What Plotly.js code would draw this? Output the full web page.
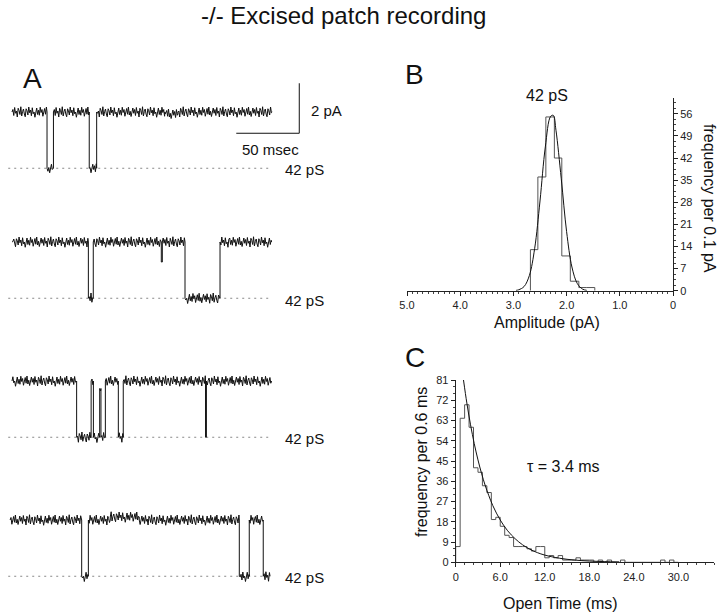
<!DOCTYPE html>
<html>
<head>
<meta charset="utf-8">
<script src="https://cdn.plot.ly/plotly-3.0.1.min.js"></script>
<style>
  html, body { margin: 0; padding: 0; background: #fff; }
  #plot { width: 720px; height: 615px; }
</style>
</head>
<body>
<div id="plot"></div>
<script>
// ---- data ----
// panel A: single-channel traces, change points (ms) and current level (pA) held until the next point
var OPEN = -2.25;   // 42 pS open level
var tr1Times  = [0, 27.8, 32.9, 61.3, 67.2, 121.4, 131.7, 206.5];
var tr1Levels = [0, OPEN, 0, OPEN, 0, -0.08, 0];
var tr2Times  = [0, 60.6, 64.5, 118.5, 119.3, 137.3, 165.1, 206];
var tr2Levels = [0, OPEN, 0, -0.8, 0, OPEN, 0];
var tr3Times  = [0, 51.3, 62.8, 64.6, 69.6, 70.6, 74.1, 84.4, 88.3, 153.6, 154.3, 206];
var tr3Levels = [0, OPEN, 0, OPEN, -0.3, OPEN, 0, OPEN, 0, OPEN, 0];
var tr4Times  = [-1.5, 55.3, 60.6, 78, 101, 180.4, 188.3, 199.4, 204.8];
var tr4Levels = [0, OPEN, 0, 0.12, 0, OPEN, 0, OPEN];
// recording noise (pA), estimated from the traces
var noise = [0.1, -0.14, 0.18, -0.05, 0.04, -0.2, 0.15, 0.06, -0.1, 0.21, -0.16, 0.02, 0.12, -0.08, -0.19,
             0.13, 0.05, -0.12, 0.2, -0.03, 0.08, -0.15, 0.17, -0.07, 0.0, -0.21, 0.11, 0.16, -0.1, 0.07,
             -0.13, 0.19, -0.02, 0.1, -0.17, 0.05, 0.14, -0.09, 0.2, -0.12, 0.03, -0.18, 0.09, 0.16, -0.05];
var dashT = [-3, 205];
var SCALE_MS = 50, SCALE_PA = 2, scaleT0 = 178, scaleY0 = -0.85;

// panel B: amplitude histogram (pA bin edges, counts) and gaussian fit
var ampEdges  = [2.68, 2.54, 2.39, 2.23, 2.09, 1.93, 1.77, 1.62, 1.47];
var ampCounts = [13, 36, 55, 42, 11, 3, 1, 1];
var ampFitX = [2.95, 2.9, 2.8, 2.7, 2.6, 2.5, 2.4, 2.3, 2.25, 2.2, 2.1, 2.0, 1.9, 1.8, 1.7, 1.62];
var ampFitY = [0.1, 0.3, 1.3, 4.8, 13.4, 28.4, 45.5, 55.2, 55.5, 50.8, 35.4, 18.7, 7.5, 2.3, 0.5, 0.1];
var ampTickVals = [5, 4, 3, 2, 1, 0];
var ampTickText = ['5.0', '4.0', '3.0', '2.0', '1.0', '0'];
var ampYTicks = [0, 7, 14, 21, 28, 35, 42, 49, 56];

// panel C: open time histogram (0.6 ms bins) and exponential fit, tau = 3.4 ms
var BIN_MS = 0.6;
var openCounts = [7, 64, 70, 60, 42, 40, 34, 31, 19, 20, 16, 12, 11, 7, 7, 7, 6, 5, 7, 7,
                  2, 3, 2, 3, 1, 1, 1, 2, 1, 1, 1, 0, 1, 0, 1, 0, 0, 1, 0, 0,
                  0, 0, 0, 0, 0, 0, 1, 0, 1, 0];
var openFitX = [1.05, 1.5, 2, 2.5, 3, 3.5, 4, 5, 6, 7, 8, 9, 10, 11, 12, 14, 16, 18, 20, 22];
var openFitY = [81, 70.8, 61.1, 52.7, 45.5, 39.3, 33.9, 25.2, 18.8, 14.0, 10.5, 7.8, 5.8, 4.3, 3.2, 1.8, 1.0, 0.55, 0.3, 0.17];
var openTickVals = [0, 6, 12, 18, 24, 30];
var openTickText = ['0', '6.0', '12.0', '18.0', '24.0', '30.0'];
var openYTicks = [0, 9, 18, 27, 36, 45, 54, 63, 72, 81];

// ---- helpers ----
var W = 720, H = 615;
function px(x) { return x / W; }
function py(y) { return 1 - y / H; }

var STEP = 0.7;
function buildTrace(times, levels, k) {
  var x = [], y = [];
  for (var i = 0; i < levels.length; i++) {
    var a = times[i], b = times[i + 1], lev = levels[i];
    x.push(a); y.push(lev);
    for (var t = a + STEP; t < b - 0.2; t += STEP) {
      x.push(t); y.push(lev + noise[k % noise.length]); k++;
    }
    x.push(b); y.push(lev);
  }
  return {x: x, y: y};
}

function histLine(edges, counts) {
  return {x: [edges[0]].concat(edges), y: [0].concat(counts, [0])};
}

var FONT = 'Liberation Sans, Arial, sans-serif';
var data = [];
var traces = [[tr1Times, tr1Levels], [tr2Times, tr2Levels], [tr3Times, tr3Levels], [tr4Times, tr4Levels]];
var yNames = ['y', 'y2', 'y3', 'y4'];
traces.forEach(function (tr, i) {
  var d = buildTrace(tr[0], tr[1], i * 11);
  data.push({x: dashT, y: [OPEN, OPEN], xaxis: 'x', yaxis: yNames[i], mode: 'lines',
             line: {color: '#888', width: 1, dash: '2px,4px'}, hoverinfo: 'skip'});
  data.push({x: d.x, y: d.y, xaxis: 'x', yaxis: yNames[i], mode: 'lines',
             line: {color: '#111', width: 1}});
});

var hb = histLine(ampEdges, ampCounts);
data.push({x: hb.x, y: hb.y, xaxis: 'x2', yaxis: 'y5', mode: 'lines', line: {shape: 'hv', color: '#555', width: 1}});
data.push({x: ampFitX, y: ampFitY, xaxis: 'x2', yaxis: 'y5', mode: 'lines', line: {shape: 'spline', color: '#111', width: 1}});

var openEdges = openCounts.map(function (c, i) { return i * BIN_MS; }).concat([openCounts.length * BIN_MS]);
var hc = histLine(openEdges, openCounts);
data.push({x: hc.x, y: hc.y, xaxis: 'x3', yaxis: 'y6', mode: 'lines', line: {shape: 'hv', color: '#555', width: 1}});
data.push({x: openFitX, y: openFitY, xaxis: 'x3', yaxis: 'y6', mode: 'lines', line: {shape: 'spline', color: '#111', width: 1}});

function traceAxis(top, bottom) {
  return {domain: [py(bottom), py(top)], range: [-3.2, 1.2], visible: false, fixedrange: true};
}
var tickFont = {family: FONT, size: 11, color: '#222'};

var layout = {
  width: W, height: H,
  margin: {l: 0, r: 0, t: 0, b: 0},
  paper_bgcolor: '#fff', plot_bgcolor: 'rgba(0,0,0,0)',
  showlegend: false,
  font: {family: FONT, color: '#111'},
  xaxis: {domain: [0, px(360)], range: [-12 / 1.26, 348 / 1.26], visible: false},
  yaxis: traceAxis(82, 192),
  yaxis2: traceAxis(212, 322),
  yaxis3: traceAxis(351, 461),
  yaxis4: traceAxis(490, 600),
  xaxis2: {domain: [px(407), px(673)], range: [5, 0], anchor: 'y5',
           tickvals: ampTickVals, ticktext: ampTickText, tickfont: tickFont,
           showline: true, linecolor: '#222', linewidth: 1, ticks: 'outside', ticklen: 4, tickcolor: '#222',
           minor: {dtick: 0.1, ticks: 'outside', ticklen: 2, tickcolor: '#444'},
           showgrid: false, zeroline: false},
  yaxis5: {domain: [py(290.7), py(98)], range: [0, 61], anchor: 'x2', side: 'right',
           tickvals: ampYTicks, tickfont: tickFont,
           showline: true, linecolor: '#222', linewidth: 1, ticks: 'outside', ticklen: 4, tickcolor: '#222',
           minor: {dtick: 1.75, ticks: 'outside', ticklen: 2, tickcolor: '#444'},
           showgrid: false, zeroline: false},
  xaxis3: {domain: [px(455.7), px(714)], range: [0, 34.8], anchor: 'y6',
           tickvals: openTickVals, ticktext: openTickText, tickfont: tickFont,
           showline: true, linecolor: '#222', linewidth: 1, ticks: 'outside', ticklen: 4, tickcolor: '#222',
           minor: {dtick: 1.2, ticks: 'outside', ticklen: 2, tickcolor: '#444'},
           showgrid: false, zeroline: false},
  yaxis6: {domain: [py(562.3), py(380)], range: [0, 81], anchor: 'x3',
           tickvals: openYTicks, tickfont: tickFont,
           showline: true, linecolor: '#222', linewidth: 1, ticks: 'outside', ticklen: 4, tickcolor: '#222',
           minor: {dtick: 3, ticks: 'outside', ticklen: 2, tickcolor: '#444'},
           showgrid: false, zeroline: false},
  shapes: [
    // scale bar on the first trace
    {type: 'line', xref: 'x', yref: 'y', x0: scaleT0, x1: scaleT0 + SCALE_MS, y0: scaleY0, y1: scaleY0,
     line: {color: '#111', width: 1}},
    {type: 'line', xref: 'x', yref: 'y', x0: scaleT0 + SCALE_MS, x1: scaleT0 + SCALE_MS, y0: scaleY0, y1: scaleY0 + SCALE_PA,
     line: {color: '#111', width: 1}}
  ],
  annotations: []
};

function note(text, x, y, size, opts) {
  var a = {text: text, xref: 'paper', yref: 'paper', x: px(x), y: py(y), showarrow: false,
           xanchor: 'center', yanchor: 'middle', font: {family: FONT, size: size, color: '#111'}};
  for (var k in opts) a[k] = opts[k];
  layout.annotations.push(a);
}
note('-/- Excised patch recording', 343, 16, 24);
note('A', 32, 78, 28);
note('B', 415, 74, 28);
note('C', 415, 357, 28);
[170, 300, 438, 577].forEach(function (y) { note('42 pS', 283, y, 15, {xanchor: 'left'}); });
note('2 pA', 309, 111, 15, {xanchor: 'left'});
note('50 msec', 270, 149, 15);
note('42 pS', 547, 95, 16);
note('Amplitude (pA)', 547, 323, 16);
note('frequency per 0.1 pA', 710, 198, 16, {textangle: 90});
note('Open Time (ms)', 560, 603, 16);
note('frequency per 0.6 ms', 421, 462, 16, {textangle: -90});
note('\u03c4 = 3.4 ms', 563, 466, 16);

Plotly.newPlot('plot', data, layout, {staticPlot: true});
</script>
</body>
</html>
